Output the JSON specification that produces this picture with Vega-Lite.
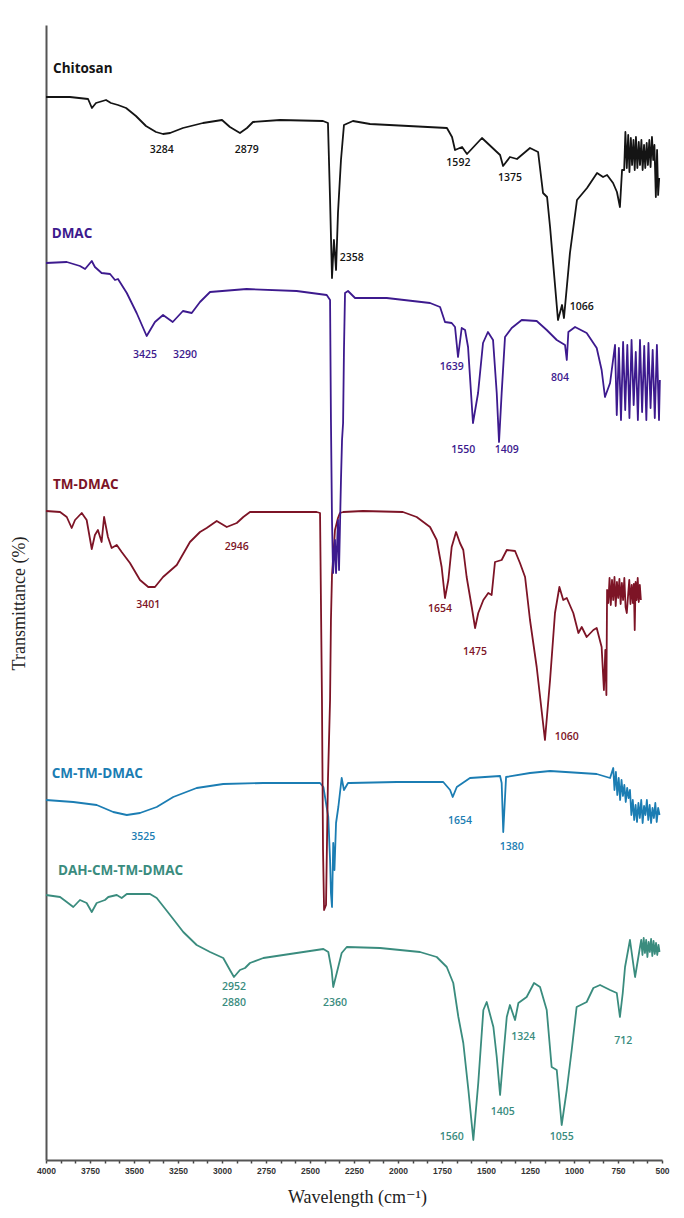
{
  "$schema": "https://vega.github.io/schema/vega-lite/v6.json",
  "width": 616,
  "height": 1135,
  "autosize": {"type": "none"},
  "padding": {"left": 46, "top": 25, "right": 22, "bottom": 58},
  "background": "white",
  "config": {"view": {"stroke": null}, "axis": {"grid": false}},
  "datasets": {
    "spectra": [
      {"s":"DAH-CM-TM-DMAC","wn":4000,"t":263},{"s":"DAH-CM-TM-DMAC","wn":3920,"t":261},{"s":"DAH-CM-TM-DMAC","wn":3882,"t":256},{"s":"DAH-CM-TM-DMAC","wn":3845,"t":251},{"s":"DAH-CM-TM-DMAC","wn":3807,"t":258},{"s":"DAH-CM-TM-DMAC","wn":3769,"t":255},{"s":"DAH-CM-TM-DMAC","wn":3740,"t":246},{"s":"DAH-CM-TM-DMAC","wn":3712,"t":255},{"s":"DAH-CM-TM-DMAC","wn":3665,"t":258},{"s":"DAH-CM-TM-DMAC","wn":3646,"t":261},{"s":"DAH-CM-TM-DMAC","wn":3598,"t":263},{"s":"DAH-CM-TM-DMAC","wn":3570,"t":260},{"s":"DAH-CM-TM-DMAC","wn":3541,"t":264},{"s":"DAH-CM-TM-DMAC","wn":3409,"t":264},{"s":"DAH-CM-TM-DMAC","wn":3371,"t":260},{"s":"DAH-CM-TM-DMAC","wn":3295,"t":243},{"s":"DAH-CM-TM-DMAC","wn":3220,"t":226},{"s":"DAH-CM-TM-DMAC","wn":3144,"t":213},{"s":"DAH-CM-TM-DMAC","wn":3068,"t":206},{"s":"DAH-CM-TM-DMAC","wn":2993,"t":200},{"s":"DAH-CM-TM-DMAC","wn":2955,"t":188},{"s":"DAH-CM-TM-DMAC","wn":2932,"t":181},{"s":"DAH-CM-TM-DMAC","wn":2898,"t":188},{"s":"DAH-CM-TM-DMAC","wn":2869,"t":190},{"s":"DAH-CM-TM-DMAC","wn":2841,"t":195},{"s":"DAH-CM-TM-DMAC","wn":2765,"t":200},{"s":"DAH-CM-TM-DMAC","wn":2652,"t":203},{"s":"DAH-CM-TM-DMAC","wn":2424,"t":209},{"s":"DAH-CM-TM-DMAC","wn":2396,"t":206},{"s":"DAH-CM-TM-DMAC","wn":2377,"t":188},{"s":"DAH-CM-TM-DMAC","wn":2368,"t":171},{"s":"DAH-CM-TM-DMAC","wn":2348,"t":185},{"s":"DAH-CM-TM-DMAC","wn":2320,"t":205},{"s":"DAH-CM-TM-DMAC","wn":2291,"t":211},{"s":"DAH-CM-TM-DMAC","wn":2102,"t":210},{"s":"DAH-CM-TM-DMAC","wn":1875,"t":206},{"s":"DAH-CM-TM-DMAC","wn":1780,"t":201},{"s":"DAH-CM-TM-DMAC","wn":1723,"t":191},{"s":"DAH-CM-TM-DMAC","wn":1686,"t":175},{"s":"DAH-CM-TM-DMAC","wn":1657,"t":141},{"s":"DAH-CM-TM-DMAC","wn":1629,"t":115},{"s":"DAH-CM-TM-DMAC","wn":1600,"t":68},{"s":"DAH-CM-TM-DMAC","wn":1572,"t":18},{"s":"DAH-CM-TM-DMAC","wn":1544,"t":75},{"s":"DAH-CM-TM-DMAC","wn":1515,"t":148},{"s":"DAH-CM-TM-DMAC","wn":1496,"t":156},{"s":"DAH-CM-TM-DMAC","wn":1458,"t":131},{"s":"DAH-CM-TM-DMAC","wn":1439,"t":101},{"s":"DAH-CM-TM-DMAC","wn":1420,"t":63},{"s":"DAH-CM-TM-DMAC","wn":1402,"t":101},{"s":"DAH-CM-TM-DMAC","wn":1382,"t":141},{"s":"DAH-CM-TM-DMAC","wn":1364,"t":153},{"s":"DAH-CM-TM-DMAC","wn":1335,"t":138},{"s":"DAH-CM-TM-DMAC","wn":1316,"t":155},{"s":"DAH-CM-TM-DMAC","wn":1269,"t":161},{"s":"DAH-CM-TM-DMAC","wn":1227,"t":175},{"s":"DAH-CM-TM-DMAC","wn":1193,"t":171},{"s":"DAH-CM-TM-DMAC","wn":1155,"t":148},{"s":"DAH-CM-TM-DMAC","wn":1127,"t":91},{"s":"DAH-CM-TM-DMAC","wn":1098,"t":88},{"s":"DAH-CM-TM-DMAC","wn":1070,"t":33},{"s":"DAH-CM-TM-DMAC","wn":1041,"t":68},{"s":"DAH-CM-TM-DMAC","wn":1013,"t":108},{"s":"DAH-CM-TM-DMAC","wn":985,"t":151},{"s":"DAH-CM-TM-DMAC","wn":928,"t":156},{"s":"DAH-CM-TM-DMAC","wn":890,"t":170},{"s":"DAH-CM-TM-DMAC","wn":852,"t":173},{"s":"DAH-CM-TM-DMAC","wn":795,"t":168},{"s":"DAH-CM-TM-DMAC","wn":757,"t":165},{"s":"DAH-CM-TM-DMAC","wn":739,"t":141},{"s":"DAH-CM-TM-DMAC","wn":723,"t":165},{"s":"DAH-CM-TM-DMAC","wn":710,"t":191},{"s":"DAH-CM-TM-DMAC","wn":682,"t":218},{"s":"DAH-CM-TM-DMAC","wn":653,"t":181},{"s":"DAH-CM-TM-DMAC","wn":625,"t":211},{"s":"DAH-CM-TM-DMAC","wn":618,"t":218},{"s":"DAH-CM-TM-DMAC","wn":611,"t":203},{"s":"DAH-CM-TM-DMAC","wn":604,"t":220},{"s":"DAH-CM-TM-DMAC","wn":597,"t":205},{"s":"DAH-CM-TM-DMAC","wn":590,"t":218},{"s":"DAH-CM-TM-DMAC","wn":583,"t":201},{"s":"DAH-CM-TM-DMAC","wn":576,"t":216},{"s":"DAH-CM-TM-DMAC","wn":569,"t":206},{"s":"DAH-CM-TM-DMAC","wn":562,"t":219},{"s":"DAH-CM-TM-DMAC","wn":555,"t":202},{"s":"DAH-CM-TM-DMAC","wn":548,"t":217},{"s":"DAH-CM-TM-DMAC","wn":541,"t":204},{"s":"DAH-CM-TM-DMAC","wn":534,"t":215},{"s":"DAH-CM-TM-DMAC","wn":527,"t":203},{"s":"DAH-CM-TM-DMAC","wn":520,"t":213},{"s":"DAH-CM-TM-DMAC","wn":514,"t":206},

      {"s":"CM-TM-DMAC","wn":4000,"t":358},{"s":"CM-TM-DMAC","wn":3845,"t":356},{"s":"CM-TM-DMAC","wn":3712,"t":353},{"s":"CM-TM-DMAC","wn":3618,"t":346},{"s":"CM-TM-DMAC","wn":3541,"t":343},{"s":"CM-TM-DMAC","wn":3466,"t":345},{"s":"CM-TM-DMAC","wn":3371,"t":351},{"s":"CM-TM-DMAC","wn":3277,"t":361},{"s":"CM-TM-DMAC","wn":3144,"t":370},{"s":"CM-TM-DMAC","wn":2993,"t":374},{"s":"CM-TM-DMAC","wn":2765,"t":375},{"s":"CM-TM-DMAC","wn":2443,"t":375},{"s":"CM-TM-DMAC","wn":2424,"t":371},{"s":"CM-TM-DMAC","wn":2396,"t":341},{"s":"CM-TM-DMAC","wn":2386,"t":298},{"s":"CM-TM-DMAC","wn":2381,"t":265},{"s":"CM-TM-DMAC","wn":2375,"t":251},{"s":"CM-TM-DMAC","wn":2368,"t":315},{"s":"CM-TM-DMAC","wn":2361,"t":288},{"s":"CM-TM-DMAC","wn":2352,"t":335},{"s":"CM-TM-DMAC","wn":2339,"t":351},{"s":"CM-TM-DMAC","wn":2320,"t":380},{"s":"CM-TM-DMAC","wn":2307,"t":368},{"s":"CM-TM-DMAC","wn":2284,"t":375},{"s":"CM-TM-DMAC","wn":2273,"t":375},{"s":"CM-TM-DMAC","wn":2007,"t":376},{"s":"CM-TM-DMAC","wn":1743,"t":376},{"s":"CM-TM-DMAC","wn":1704,"t":368},{"s":"CM-TM-DMAC","wn":1689,"t":361},{"s":"CM-TM-DMAC","wn":1666,"t":371},{"s":"CM-TM-DMAC","wn":1591,"t":380},{"s":"CM-TM-DMAC","wn":1420,"t":382},{"s":"CM-TM-DMAC","wn":1411,"t":375},{"s":"CM-TM-DMAC","wn":1402,"t":326},{"s":"CM-TM-DMAC","wn":1386,"t":381},{"s":"CM-TM-DMAC","wn":1250,"t":385},{"s":"CM-TM-DMAC","wn":1136,"t":387},{"s":"CM-TM-DMAC","wn":871,"t":384},{"s":"CM-TM-DMAC","wn":795,"t":380},{"s":"CM-TM-DMAC","wn":777,"t":390},{"s":"CM-TM-DMAC","wn":770,"t":368},{"s":"CM-TM-DMAC","wn":762,"t":386},{"s":"CM-TM-DMAC","wn":754,"t":363},{"s":"CM-TM-DMAC","wn":746,"t":380},{"s":"CM-TM-DMAC","wn":738,"t":358},{"s":"CM-TM-DMAC","wn":730,"t":378},{"s":"CM-TM-DMAC","wn":722,"t":362},{"s":"CM-TM-DMAC","wn":714,"t":373},{"s":"CM-TM-DMAC","wn":706,"t":356},{"s":"CM-TM-DMAC","wn":698,"t":370},{"s":"CM-TM-DMAC","wn":690,"t":360},{"s":"CM-TM-DMAC","wn":682,"t":368},{"s":"CM-TM-DMAC","wn":674,"t":343},{"s":"CM-TM-DMAC","wn":666,"t":358},{"s":"CM-TM-DMAC","wn":658,"t":338},{"s":"CM-TM-DMAC","wn":650,"t":353},{"s":"CM-TM-DMAC","wn":642,"t":336},{"s":"CM-TM-DMAC","wn":634,"t":355},{"s":"CM-TM-DMAC","wn":626,"t":340},{"s":"CM-TM-DMAC","wn":618,"t":358},{"s":"CM-TM-DMAC","wn":610,"t":335},{"s":"CM-TM-DMAC","wn":602,"t":352},{"s":"CM-TM-DMAC","wn":594,"t":343},{"s":"CM-TM-DMAC","wn":586,"t":358},{"s":"CM-TM-DMAC","wn":578,"t":338},{"s":"CM-TM-DMAC","wn":570,"t":353},{"s":"CM-TM-DMAC","wn":562,"t":335},{"s":"CM-TM-DMAC","wn":554,"t":350},{"s":"CM-TM-DMAC","wn":546,"t":340},{"s":"CM-TM-DMAC","wn":538,"t":355},{"s":"CM-TM-DMAC","wn":530,"t":336},{"s":"CM-TM-DMAC","wn":522,"t":350},{"s":"CM-TM-DMAC","wn":514,"t":343},

      {"s":"TM-DMAC","wn":4000,"t":647},{"s":"TM-DMAC","wn":3920,"t":646},{"s":"TM-DMAC","wn":3882,"t":641},{"s":"TM-DMAC","wn":3854,"t":630},{"s":"TM-DMAC","wn":3835,"t":638},{"s":"TM-DMAC","wn":3797,"t":645},{"s":"TM-DMAC","wn":3769,"t":638},{"s":"TM-DMAC","wn":3740,"t":609},{"s":"TM-DMAC","wn":3722,"t":623},{"s":"TM-DMAC","wn":3705,"t":628},{"s":"TM-DMAC","wn":3684,"t":616},{"s":"TM-DMAC","wn":3670,"t":641},{"s":"TM-DMAC","wn":3648,"t":621},{"s":"TM-DMAC","wn":3627,"t":610},{"s":"TM-DMAC","wn":3598,"t":613},{"s":"TM-DMAC","wn":3570,"t":606},{"s":"TM-DMAC","wn":3523,"t":595},{"s":"TM-DMAC","wn":3466,"t":578},{"s":"TM-DMAC","wn":3419,"t":571},{"s":"TM-DMAC","wn":3381,"t":571},{"s":"TM-DMAC","wn":3335,"t":581},{"s":"TM-DMAC","wn":3257,"t":593},{"s":"TM-DMAC","wn":3182,"t":616},{"s":"TM-DMAC","wn":3125,"t":626},{"s":"TM-DMAC","wn":3087,"t":630},{"s":"TM-DMAC","wn":3030,"t":637},{"s":"TM-DMAC","wn":2973,"t":631},{"s":"TM-DMAC","wn":2916,"t":635},{"s":"TM-DMAC","wn":2879,"t":641},{"s":"TM-DMAC","wn":2841,"t":646},{"s":"TM-DMAC","wn":2462,"t":646},{"s":"TM-DMAC","wn":2443,"t":645},{"s":"TM-DMAC","wn":2432,"t":458},{"s":"TM-DMAC","wn":2426,"t":308},{"s":"TM-DMAC","wn":2420,"t":248},{"s":"TM-DMAC","wn":2409,"t":253},{"s":"TM-DMAC","wn":2398,"t":378},{"s":"TM-DMAC","wn":2386,"t":458},{"s":"TM-DMAC","wn":2381,"t":538},{"s":"TM-DMAC","wn":2375,"t":583},{"s":"TM-DMAC","wn":2358,"t":628},{"s":"TM-DMAC","wn":2341,"t":640},{"s":"TM-DMAC","wn":2330,"t":645},{"s":"TM-DMAC","wn":2311,"t":646},{"s":"TM-DMAC","wn":2199,"t":647},{"s":"TM-DMAC","wn":1972,"t":646},{"s":"TM-DMAC","wn":1894,"t":641},{"s":"TM-DMAC","wn":1818,"t":631},{"s":"TM-DMAC","wn":1780,"t":618},{"s":"TM-DMAC","wn":1752,"t":591},{"s":"TM-DMAC","wn":1733,"t":560},{"s":"TM-DMAC","wn":1714,"t":578},{"s":"TM-DMAC","wn":1695,"t":611},{"s":"TM-DMAC","wn":1670,"t":626},{"s":"TM-DMAC","wn":1648,"t":615},{"s":"TM-DMAC","wn":1629,"t":608},{"s":"TM-DMAC","wn":1610,"t":581},{"s":"TM-DMAC","wn":1581,"t":551},{"s":"TM-DMAC","wn":1562,"t":530},{"s":"TM-DMAC","wn":1544,"t":545},{"s":"TM-DMAC","wn":1515,"t":558},{"s":"TM-DMAC","wn":1487,"t":565},{"s":"TM-DMAC","wn":1468,"t":563},{"s":"TM-DMAC","wn":1449,"t":596},{"s":"TM-DMAC","wn":1411,"t":598},{"s":"TM-DMAC","wn":1382,"t":608},{"s":"TM-DMAC","wn":1335,"t":607},{"s":"TM-DMAC","wn":1307,"t":595},{"s":"TM-DMAC","wn":1278,"t":581},{"s":"TM-DMAC","wn":1250,"t":538},{"s":"TM-DMAC","wn":1212,"t":491},{"s":"TM-DMAC","wn":1165,"t":418},{"s":"TM-DMAC","wn":1136,"t":478},{"s":"TM-DMAC","wn":1108,"t":545},{"s":"TM-DMAC","wn":1083,"t":571},{"s":"TM-DMAC","wn":1061,"t":558},{"s":"TM-DMAC","wn":1041,"t":560},{"s":"TM-DMAC","wn":1004,"t":545},{"s":"TM-DMAC","wn":975,"t":525},{"s":"TM-DMAC","wn":956,"t":531},{"s":"TM-DMAC","wn":928,"t":521},{"s":"TM-DMAC","wn":890,"t":528},{"s":"TM-DMAC","wn":871,"t":530},{"s":"TM-DMAC","wn":843,"t":511},{"s":"TM-DMAC","wn":830,"t":468},{"s":"TM-DMAC","wn":822,"t":508},{"s":"TM-DMAC","wn":816,"t":463},{"s":"TM-DMAC","wn":812,"t":568},{"s":"TM-DMAC","wn":805,"t":555},{"s":"TM-DMAC","wn":798,"t":580},{"s":"TM-DMAC","wn":791,"t":553},{"s":"TM-DMAC","wn":784,"t":578},{"s":"TM-DMAC","wn":777,"t":558},{"s":"TM-DMAC","wn":770,"t":581},{"s":"TM-DMAC","wn":763,"t":552},{"s":"TM-DMAC","wn":756,"t":576},{"s":"TM-DMAC","wn":749,"t":560},{"s":"TM-DMAC","wn":742,"t":579},{"s":"TM-DMAC","wn":735,"t":554},{"s":"TM-DMAC","wn":728,"t":575},{"s":"TM-DMAC","wn":721,"t":558},{"s":"TM-DMAC","wn":714,"t":580},{"s":"TM-DMAC","wn":707,"t":551},{"s":"TM-DMAC","wn":700,"t":545},{"s":"TM-DMAC","wn":693,"t":562},{"s":"TM-DMAC","wn":686,"t":578},{"s":"TM-DMAC","wn":679,"t":554},{"s":"TM-DMAC","wn":672,"t":573},{"s":"TM-DMAC","wn":665,"t":555},{"s":"TM-DMAC","wn":660,"t":574},{"s":"TM-DMAC","wn":655,"t":528},{"s":"TM-DMAC","wn":650,"t":576},{"s":"TM-DMAC","wn":644,"t":558},{"s":"TM-DMAC","wn":638,"t":580},{"s":"TM-DMAC","wn":632,"t":556},{"s":"TM-DMAC","wn":626,"t":573},{"s":"TM-DMAC","wn":620,"t":558},

      {"s":"DMAC","wn":4000,"t":895},{"s":"DMAC","wn":3882,"t":896},{"s":"DMAC","wn":3807,"t":892},{"s":"DMAC","wn":3778,"t":889},{"s":"DMAC","wn":3740,"t":897},{"s":"DMAC","wn":3722,"t":891},{"s":"DMAC","wn":3684,"t":885},{"s":"DMAC","wn":3636,"t":884},{"s":"DMAC","wn":3608,"t":878},{"s":"DMAC","wn":3591,"t":879},{"s":"DMAC","wn":3541,"t":865},{"s":"DMAC","wn":3485,"t":845},{"s":"DMAC","wn":3428,"t":822},{"s":"DMAC","wn":3381,"t":836},{"s":"DMAC","wn":3335,"t":843},{"s":"DMAC","wn":3280,"t":836},{"s":"DMAC","wn":3222,"t":847},{"s":"DMAC","wn":3172,"t":845},{"s":"DMAC","wn":3125,"t":856},{"s":"DMAC","wn":3068,"t":866},{"s":"DMAC","wn":2860,"t":869},{"s":"DMAC","wn":2576,"t":867},{"s":"DMAC","wn":2405,"t":863},{"s":"DMAC","wn":2386,"t":858},{"s":"DMAC","wn":2381,"t":738},{"s":"DMAC","wn":2375,"t":638},{"s":"DMAC","wn":2369,"t":585},{"s":"DMAC","wn":2358,"t":618},{"s":"DMAC","wn":2352,"t":585},{"s":"DMAC","wn":2341,"t":638},{"s":"DMAC","wn":2335,"t":588},{"s":"DMAC","wn":2324,"t":678},{"s":"DMAC","wn":2318,"t":718},{"s":"DMAC","wn":2312,"t":735},{"s":"DMAC","wn":2307,"t":808},{"s":"DMAC","wn":2301,"t":865},{"s":"DMAC","wn":2284,"t":867},{"s":"DMAC","wn":2244,"t":860},{"s":"DMAC","wn":2064,"t":860},{"s":"DMAC","wn":1818,"t":855},{"s":"DMAC","wn":1761,"t":851},{"s":"DMAC","wn":1733,"t":836},{"s":"DMAC","wn":1695,"t":835},{"s":"DMAC","wn":1676,"t":831},{"s":"DMAC","wn":1659,"t":801},{"s":"DMAC","wn":1638,"t":830},{"s":"DMAC","wn":1619,"t":828},{"s":"DMAC","wn":1602,"t":811},{"s":"DMAC","wn":1574,"t":735},{"s":"DMAC","wn":1545,"t":765},{"s":"DMAC","wn":1517,"t":815},{"s":"DMAC","wn":1489,"t":826},{"s":"DMAC","wn":1460,"t":818},{"s":"DMAC","wn":1439,"t":765},{"s":"DMAC","wn":1426,"t":716},{"s":"DMAC","wn":1411,"t":765},{"s":"DMAC","wn":1392,"t":821},{"s":"DMAC","wn":1354,"t":830},{"s":"DMAC","wn":1297,"t":838},{"s":"DMAC","wn":1212,"t":837},{"s":"DMAC","wn":1155,"t":828},{"s":"DMAC","wn":1098,"t":818},{"s":"DMAC","wn":1051,"t":813},{"s":"DMAC","wn":1041,"t":798},{"s":"DMAC","wn":1032,"t":826},{"s":"DMAC","wn":994,"t":831},{"s":"DMAC","wn":928,"t":825},{"s":"DMAC","wn":871,"t":810},{"s":"DMAC","wn":843,"t":788},{"s":"DMAC","wn":824,"t":761},{"s":"DMAC","wn":795,"t":775},{"s":"DMAC","wn":767,"t":813},{"s":"DMAC","wn":757,"t":743},{"s":"DMAC","wn":745,"t":810},{"s":"DMAC","wn":733,"t":738},{"s":"DMAC","wn":721,"t":816},{"s":"DMAC","wn":709,"t":748},{"s":"DMAC","wn":697,"t":813},{"s":"DMAC","wn":685,"t":740},{"s":"DMAC","wn":673,"t":818},{"s":"DMAC","wn":661,"t":753},{"s":"DMAC","wn":649,"t":806},{"s":"DMAC","wn":637,"t":738},{"s":"DMAC","wn":625,"t":818},{"s":"DMAC","wn":613,"t":746},{"s":"DMAC","wn":601,"t":812},{"s":"DMAC","wn":589,"t":738},{"s":"DMAC","wn":577,"t":815},{"s":"DMAC","wn":565,"t":750},{"s":"DMAC","wn":553,"t":808},{"s":"DMAC","wn":541,"t":740},{"s":"DMAC","wn":529,"t":813},{"s":"DMAC","wn":517,"t":738},{"s":"DMAC","wn":512,"t":778},

      {"s":"Chitosan","wn":4000,"t":1061},{"s":"Chitosan","wn":3864,"t":1061},{"s":"Chitosan","wn":3761,"t":1059},{"s":"Chitosan","wn":3739,"t":1050},{"s":"Chitosan","wn":3716,"t":1055},{"s":"Chitosan","wn":3659,"t":1058},{"s":"Chitosan","wn":3631,"t":1055},{"s":"Chitosan","wn":3591,"t":1053},{"s":"Chitosan","wn":3545,"t":1050},{"s":"Chitosan","wn":3489,"t":1042},{"s":"Chitosan","wn":3432,"t":1032},{"s":"Chitosan","wn":3375,"t":1026},{"s":"Chitosan","wn":3335,"t":1024},{"s":"Chitosan","wn":3295,"t":1025},{"s":"Chitosan","wn":3222,"t":1030},{"s":"Chitosan","wn":3108,"t":1035},{"s":"Chitosan","wn":3000,"t":1038},{"s":"Chitosan","wn":2955,"t":1031},{"s":"Chitosan","wn":2898,"t":1025},{"s":"Chitosan","wn":2858,"t":1030},{"s":"Chitosan","wn":2824,"t":1036},{"s":"Chitosan","wn":2670,"t":1038},{"s":"Chitosan","wn":2426,"t":1037},{"s":"Chitosan","wn":2398,"t":1035},{"s":"Chitosan","wn":2386,"t":958},{"s":"Chitosan","wn":2375,"t":880},{"s":"Chitosan","wn":2364,"t":918},{"s":"Chitosan","wn":2352,"t":888},{"s":"Chitosan","wn":2341,"t":945},{"s":"Chitosan","wn":2324,"t":998},{"s":"Chitosan","wn":2307,"t":1033},{"s":"Chitosan","wn":2256,"t":1037},{"s":"Chitosan","wn":2159,"t":1034},{"s":"Chitosan","wn":1722,"t":1030},{"s":"Chitosan","wn":1693,"t":1021},{"s":"Chitosan","wn":1676,"t":1008},{"s":"Chitosan","wn":1636,"t":1011},{"s":"Chitosan","wn":1608,"t":1004},{"s":"Chitosan","wn":1523,"t":1020},{"s":"Chitosan","wn":1420,"t":1003},{"s":"Chitosan","wn":1403,"t":992},{"s":"Chitosan","wn":1364,"t":1001},{"s":"Chitosan","wn":1324,"t":999},{"s":"Chitosan","wn":1250,"t":1010},{"s":"Chitosan","wn":1204,"t":1006},{"s":"Chitosan","wn":1176,"t":965},{"s":"Chitosan","wn":1153,"t":961},{"s":"Chitosan","wn":1136,"t":931},{"s":"Chitosan","wn":1091,"t":838},{"s":"Chitosan","wn":1068,"t":853},{"s":"Chitosan","wn":1057,"t":840},{"s":"Chitosan","wn":1023,"t":905},{"s":"Chitosan","wn":983,"t":958},{"s":"Chitosan","wn":926,"t":970},{"s":"Chitosan","wn":869,"t":985},{"s":"Chitosan","wn":835,"t":981},{"s":"Chitosan","wn":812,"t":983},{"s":"Chitosan","wn":778,"t":975},{"s":"Chitosan","wn":756,"t":966},{"s":"Chitosan","wn":739,"t":951},{"s":"Chitosan","wn":727,"t":988},{"s":"Chitosan","wn":715,"t":988},{"s":"Chitosan","wn":708,"t":1026},{"s":"Chitosan","wn":700,"t":990},{"s":"Chitosan","wn":692,"t":1023},{"s":"Chitosan","wn":685,"t":986},{"s":"Chitosan","wn":677,"t":1020},{"s":"Chitosan","wn":670,"t":993},{"s":"Chitosan","wn":662,"t":1018},{"s":"Chitosan","wn":655,"t":988},{"s":"Chitosan","wn":648,"t":1021},{"s":"Chitosan","wn":640,"t":990},{"s":"Chitosan","wn":632,"t":1016},{"s":"Chitosan","wn":625,"t":993},{"s":"Chitosan","wn":617,"t":1018},{"s":"Chitosan","wn":610,"t":988},{"s":"Chitosan","wn":602,"t":1013},{"s":"Chitosan","wn":595,"t":990},{"s":"Chitosan","wn":587,"t":1015},{"s":"Chitosan","wn":580,"t":993},{"s":"Chitosan","wn":572,"t":1018},{"s":"Chitosan","wn":565,"t":991},{"s":"Chitosan","wn":557,"t":1021},{"s":"Chitosan","wn":550,"t":998},{"s":"Chitosan","wn":543,"t":1013},{"s":"Chitosan","wn":535,"t":961},{"s":"Chitosan","wn":528,"t":1008},{"s":"Chitosan","wn":522,"t":963},{"s":"Chitosan","wn":516,"t":980}
    ],
    "labels": [
      {"s":"Chitosan","kind":"name","text":"Chitosan","wn":3960,"t":1089},
      {"s":"DMAC","kind":"name","text":"DMAC","wn":3968,"t":924},
      {"s":"TM-DMAC","kind":"name","text":"TM-DMAC","wn":3960,"t":673},
      {"s":"CM-TM-DMAC","kind":"name","text":"CM-TM-DMAC","wn":3968,"t":384},
      {"s":"DAH-CM-TM-DMAC","kind":"name","text":"DAH-CM-TM-DMAC","wn":3932,"t":287},
      {"s":"Chitosan","kind":"peak","text":"3284","wn":3343,"t":1008},
      {"s":"Chitosan","kind":"peak","text":"2879","wn":2860,"t":1008},
      {"s":"Chitosan","kind":"peak","text":"2358","wn":2263,"t":900},
      {"s":"Chitosan","kind":"peak","text":"1592","wn":1657,"t":995},
      {"s":"Chitosan","kind":"peak","text":"1375","wn":1364,"t":980},
      {"s":"Chitosan","kind":"peak","text":"1066","wn":956,"t":851},
      {"s":"DMAC","kind":"peak","text":"3425","wn":3438,"t":803},
      {"s":"DMAC","kind":"peak","text":"3290","wn":3210,"t":803},
      {"s":"DMAC","kind":"peak","text":"1639","wn":1695,"t":791},
      {"s":"DMAC","kind":"peak","text":"1550","wn":1629,"t":708},
      {"s":"DMAC","kind":"peak","text":"1409","wn":1382,"t":708},
      {"s":"DMAC","kind":"peak","text":"804","wn":1079,"t":780},
      {"s":"TM-DMAC","kind":"peak","text":"3401","wn":3419,"t":553},
      {"s":"TM-DMAC","kind":"peak","text":"2946","wn":2916,"t":611},
      {"s":"TM-DMAC","kind":"peak","text":"1654","wn":1761,"t":549},
      {"s":"TM-DMAC","kind":"peak","text":"1475","wn":1562,"t":506},
      {"s":"TM-DMAC","kind":"peak","text":"1060","wn":1041,"t":421},
      {"s":"CM-TM-DMAC","kind":"peak","text":"3525","wn":3447,"t":321},
      {"s":"CM-TM-DMAC","kind":"peak","text":"1654","wn":1648,"t":337},
      {"s":"CM-TM-DMAC","kind":"peak","text":"1380","wn":1354,"t":311},
      {"s":"DAH-CM-TM-DMAC","kind":"peak","text":"2952","wn":2932,"t":171},
      {"s":"DAH-CM-TM-DMAC","kind":"peak","text":"2880","wn":2932,"t":155},
      {"s":"DAH-CM-TM-DMAC","kind":"peak","text":"2360","wn":2358,"t":155},
      {"s":"DAH-CM-TM-DMAC","kind":"peak","text":"1324","wn":1288,"t":121},
      {"s":"DAH-CM-TM-DMAC","kind":"peak","text":"1405","wn":1405,"t":46},
      {"s":"DAH-CM-TM-DMAC","kind":"peak","text":"1560","wn":1695,"t":21},
      {"s":"DAH-CM-TM-DMAC","kind":"peak","text":"1055","wn":1070,"t":21},
      {"s":"DAH-CM-TM-DMAC","kind":"peak","text":"712","wn":720,"t":117}
    ]
  },
  "encoding": {
    "x": {
      "field": "wn", "type": "quantitative",
      "scale": {"domain": [500, 4000], "reverse": true, "nice": false, "zero": false},
      "axis": {
        "title": "Wavelength (cm⁻¹)",
        "values": [500,583.33,666.67,750,833.33,916.67,1000,1083.33,1166.67,1250,1333.33,1416.67,1500,1583.33,1666.67,1750,1833.33,1916.67,2000,2083.33,2166.67,2250,2333.33,2416.67,2500,2583.33,2666.67,2750,2833.33,2916.67,3000,3083.33,3166.67,3250,3333.33,3416.67,3500,3583.33,3666.67,3750,3833.33,3916.67,4000],
        "format": "d",
        "labelExpr": "datum.value % 250 == 0 ? datum.label : ''",
        "labelOverlap": false,
        "labelFlush": false,
        "labelFont": "Liberation Sans",
        "labelFontSize": 8.5,
        "labelFontWeight": "bold",
        "labelColor": "#333333",
        "labelPadding": 3,
        "tickSize": 3,
        "tickWidth": 1.5,
        "tickColor": "#444444",
        "domainColor": "#555555",
        "domainWidth": 2,
        "titleFont": "Liberation Serif, DejaVu Serif",
        "titleFontSize": 18,
        "titleFontWeight": "normal",
        "titleColor": "#222222",
        "titleX": 311,
        "titleY": 37,
        "titleAlign": "center",
        "titleBaseline": "middle"
      }
    },
    "y": {
      "field": "t", "type": "quantitative",
      "scale": {"domain": [-2, 1133], "nice": false, "zero": false},
      "axis": {
        "title": "Transmittance (%)",
        "labels": false,
        "ticks": false,
        "domainColor": "#555555",
        "domainWidth": 2,
        "titleFont": "Liberation Serif, DejaVu Serif",
        "titleFontSize": 18,
        "titleFontWeight": "normal",
        "titleColor": "#222222",
        "titleAngle": -90,
        "titleX": -27,
        "titleY": 578,
        "titleAlign": "center",
        "titleBaseline": "middle"
      }
    },
    "color": {
      "field": "s", "type": "nominal",
      "scale": {"domain": ["Chitosan","DMAC","TM-DMAC","CM-TM-DMAC","DAH-CM-TM-DMAC"], "range": ["#141414","#3d1a8e","#7d1426","#1b7db3","#3a8c7e"]},
      "legend": null
    }
  },
  "layer": [
    {
      "data": {"name": "spectra"},
      "mark": {"type": "line", "strokeWidth": 1.8, "strokeJoin": "round"}
    },
    {
      "data": {"name": "labels"},
      "transform": [{"filter": "datum.kind == 'peak'"}],
      "mark": {"type": "text", "font": "Open Sans", "fontSize": 10.5, "fontWeight": 600, "align": "center", "baseline": "middle"},
      "encoding": {"text": {"field": "text"}}
    },
    {
      "data": {"name": "labels"},
      "transform": [{"filter": "datum.kind == 'name'"}],
      "mark": {"type": "text", "font": "Open Sans", "fontSize": 13.5, "fontWeight": "bold", "align": "left", "baseline": "middle"},
      "encoding": {"text": {"field": "text"}}
    }
  ]
}
